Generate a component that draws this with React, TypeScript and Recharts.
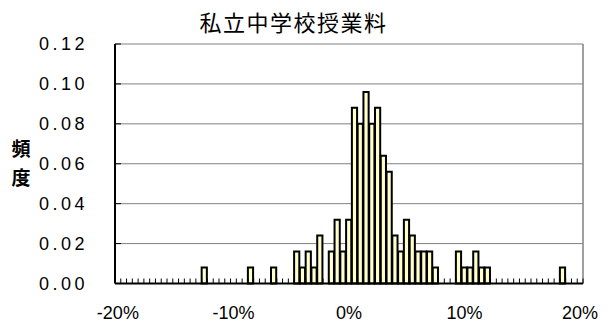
import React from 'react';
import { BarChart, Bar, XAxis, YAxis, CartesianGrid, ReferenceLine } from 'recharts';

// Histogram bins (centre of each 0.5% bin, in %) that have a non-zero frequency
const binCenters = [
  -12.5, -8.5, -6.5, -4.5, -4, -3.5, -3, -2.5, -1.5, -1, -0.5, 0, 0.5, 1, 1.5, 2, 2.5,
  3, 3.5, 4, 4.5, 5, 5.5, 6, 6.5, 7, 7.5, 9.5, 10, 10.5, 11, 11.5, 12, 18.5,
];
const frequencies = [
  0.008, 0.008, 0.008, 0.016, 0.008, 0.016, 0.008, 0.024, 0.016, 0.032, 0.016, 0.032,
  0.088, 0.080, 0.096, 0.080, 0.088, 0.064, 0.056, 0.024, 0.016, 0.032, 0.024, 0.016,
  0.016, 0.016, 0.008, 0.016, 0.008, 0.008, 0.016, 0.008, 0.008, 0.008,
];
const xTicks = [-20, -10, 0, 10, 20];
const yTicks = [0, 0.02, 0.04, 0.06, 0.08, 0.1, 0.12];
const binWidth = 0.5;
const xMin = -20 - binWidth / 2;
const xMax = 20 + binWidth / 2;
const binEdges = Array.from({ length: 81 }, (_, i) => xMin + (i + 1) * binWidth);
const minorTickHeight = 0.0025;

const title = '私立中学校授業料';
const yLabel = ['頻', '度'];

const data = binCenters.map((x, i) => ({ x, freq: frequencies[i] }));

const LATIN = '"Liberation Sans", Arial, sans-serif';
const CJK = '"Noto Sans CJK JP", sans-serif';

const YTick = (props: any) => {
  const { x, y, payload } = props;
  return (
    <text x={x} y={y} dy="0.355em" textAnchor="end" fontSize={18} fontFamily={LATIN}
      letterSpacing={3.5} fill="#000">
      {Number(payload.value).toFixed(2)}
    </text>
  );
};

const XTick = (props: any) => {
  const { x, y, payload } = props;
  return (
    <text x={x} y={y} dy="0.71em" textAnchor="middle" fontSize={18} fontFamily={LATIN} fill="#000">
      {`${payload.value}%`}
    </text>
  );
};

export default function App() {
  return (
    <div style={{ position: 'absolute', left: 0, top: 0, width: 608, height: 325, background: '#fff' }}>
      <BarChart width={608} height={325} data={data}
        margin={{ top: 44, right: 25, bottom: 0, left: 0 }}>
        <CartesianGrid vertical={false} stroke="#808080" strokeWidth={1} />
        <XAxis dataKey="x" type="number" domain={[xMin, xMax]} allowDataOverflow
          ticks={xTicks} tick={<XTick />} tickLine={false} tickSize={0} tickMargin={23}
          height={41.5} axisLine={{ stroke: '#000', strokeWidth: 2 }} interval={0} />
        <YAxis type="number" domain={[0, 0.12]} ticks={yTicks} width={115} interval={0}
          tick={<YTick />} tickSize={-6} tickMargin={33}
          tickLine={{ stroke: '#000', strokeWidth: 1 }}
          axisLine={{ stroke: '#000', strokeWidth: 2 }} />
        <ReferenceLine x={xMax} stroke="#808080" strokeWidth={1.5} />
        {binEdges.map((e) => (
          <ReferenceLine key={e} segment={[{ x: e, y: 0 }, { x: e, y: minorTickHeight }]}
            stroke="#000" strokeWidth={1} ifOverflow="visible" />
        ))}
        <Bar dataKey="freq" fill="#FFFFCC" stroke="#000" strokeWidth={2} barSize={5.78}
          isAnimationActive={false} />
      </BarChart>
      <svg width={608} height={325} style={{ position: 'absolute', left: 0, top: 0, pointerEvents: 'none' }}>
        <text x={293.5} y={31} textAnchor="middle" fontSize={22} letterSpacing={1.5}
          fontFamily={CJK} fill="#000">{title}</text>
        <text x={21} y={156} textAnchor="middle" fontSize={19} fontWeight="bold"
          fontFamily={CJK} fill="#000">{yLabel[0]}</text>
        <text x={21} y={185} textAnchor="middle" fontSize={19} fontWeight="bold"
          fontFamily={CJK} fill="#000">{yLabel[1]}</text>
      </svg>
    </div>
  );
}
